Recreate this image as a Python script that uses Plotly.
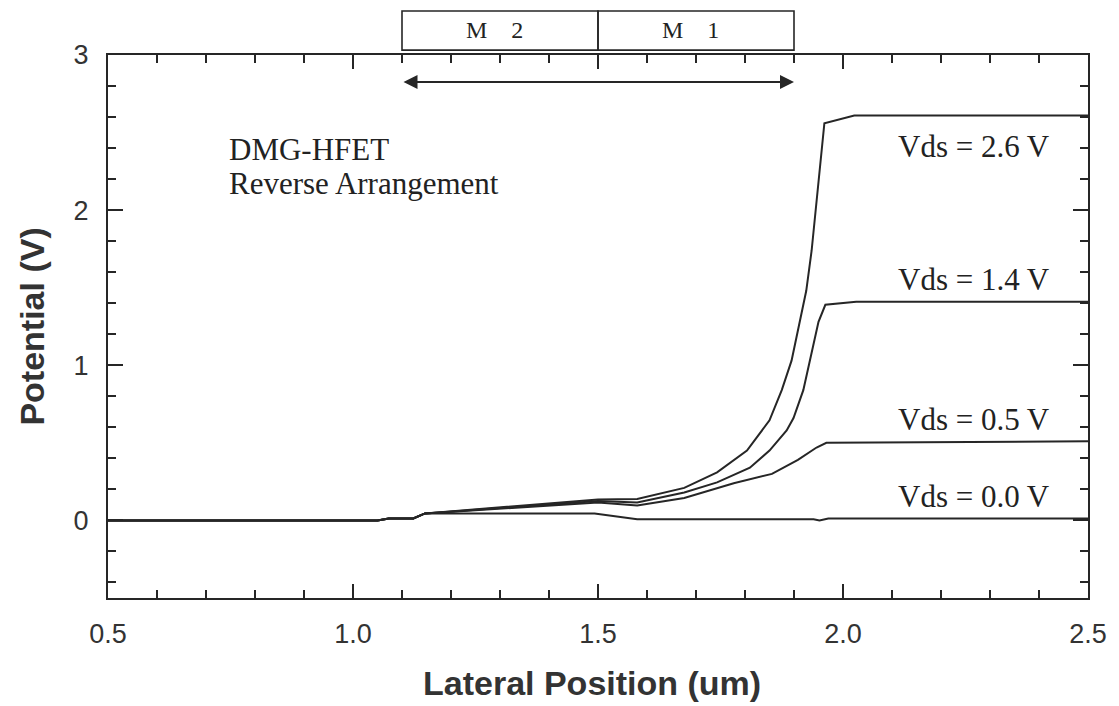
import plotly.graph_objects as go

# ---- data ----
x_v00 = [0.5, 1.05, 1.073, 1.123, 1.147, 1.493, 1.58, 1.94, 1.952, 1.97, 2.5]
y_v00 = [0, 0, 0.013, 0.013, 0.045, 0.045, 0.008, 0.008, 0.0, 0.013, 0.013]

x_v05 = [0.5, 1.05, 1.073, 1.123, 1.147, 1.3, 1.45, 1.5, 1.58, 1.676, 1.777,
         1.855, 1.908, 1.946, 1.966, 2.5]
y_v05 = [0, 0, 0.013, 0.013, 0.045, 0.075, 0.105, 0.115, 0.097, 0.145, 0.24,
         0.30, 0.39, 0.47, 0.50, 0.51]

x_v14 = [0.5, 1.05, 1.073, 1.123, 1.147, 1.3, 1.45, 1.5, 1.58, 1.676, 1.743, 1.81,
         1.85, 1.885, 1.899, 1.919, 1.95, 1.964, 2.027, 2.5]
y_v14 = [0, 0, 0.013, 0.013, 0.045, 0.08, 0.115, 0.125, 0.116, 0.18, 0.245, 0.34,
         0.45, 0.58, 0.66, 0.84, 1.28, 1.39, 1.41, 1.41]

x_v26 = [0.5, 1.05, 1.073, 1.123, 1.147, 1.3, 1.45, 1.5, 1.58, 1.676, 1.743, 1.804,
         1.85, 1.875, 1.895, 1.925, 1.936, 1.962, 2.023, 2.5]
y_v26 = [0, 0, 0.013, 0.013, 0.045, 0.085, 0.125, 0.135, 0.138, 0.21, 0.31, 0.45,
         0.645, 0.84, 1.03, 1.48, 1.74, 2.56, 2.61, 2.61]

series = [
    ("Vds = 0.0 V", x_v00, y_v00),
    ("Vds = 0.5 V", x_v05, y_v05),
    ("Vds = 1.4 V", x_v14, y_v14),
    ("Vds = 2.6 V", x_v26, y_v26),
]

# label positions (x right edge, y centre) for each curve label
label_text = ["Vds = 2.6 V", "Vds = 1.4 V", "Vds = 0.5 V", "Vds = 0.0 V"]
label_x = [2.427, 2.427, 2.427, 2.427]
label_y = [2.41, 1.55, 0.65, 0.155]

note_lines = ["DMG-HFET", "Reverse Arrangement"]
note_x = 0.742
note_y = [2.39, 2.17]

gate_names = ["M\u00a0\u00a0\u00a0\u00a02", "M\u00a0\u00a0\u00a0\u00a01"]
gate_edges = [1.1, 1.5, 1.9]

x_range = [0.5, 2.5]
y_range = [-0.5, 3.0]

LINE = "#262626"
SERIF = "Liberation Serif, Times New Roman, serif"
SANS = "Liberation Sans, Arial, sans-serif"

fig = go.Figure()
for name, xs, ys in series:
    fig.add_trace(go.Scatter(x=xs, y=ys, mode="lines", name=name,
                             line=dict(color=LINE, width=2), showlegend=False))

def xp(v):
    return (v - x_range[0]) / (x_range[1] - x_range[0])

annotations = []
for t, lx, ly in zip(label_text, label_x, label_y):
    annotations.append(dict(x=lx, y=ly, xref="x", yref="y", text=t, showarrow=False,
                            xanchor="right", yanchor="middle",
                            font=dict(family=SERIF, size=31, color="#222")))
for t, ny in zip(note_lines, note_y):
    annotations.append(dict(x=note_x, y=ny, xref="x", yref="y", text=t, showarrow=False,
                            xanchor="left", yanchor="middle",
                            font=dict(family=SERIF, size=31, color="#222")))

# gate box labels
for i, g in enumerate(gate_names):
    cx = (gate_edges[i] + gate_edges[i + 1]) / 2 - 0.012
    annotations.append(dict(x=xp(cx), y=1.046, xref="paper", yref="paper", text=g,
                            showarrow=False, xanchor="center", yanchor="middle",
                            font=dict(family=SERIF, size=24, color="#222")))

# double arrow
annotations.append(dict(x=gate_edges[-1], y=2.826, ax=gate_edges[0], ay=2.826,
                        xref="x", yref="y", axref="x", ayref="y", text="",
                        showarrow=True, arrowhead=2, arrowside="end+start",
                        arrowsize=1.4, arrowwidth=2, arrowcolor=LINE, standoff=0,
                        startstandoff=0))

# axis titles
annotations.append(dict(x=0.494, y=-0.1935, xref="paper", yref="paper",
                        text="<b>Lateral Position (um)</b>", showarrow=False,
                        xanchor="center", yanchor="bottom", borderpad=0,
                        font=dict(family=SANS, size=34, color="#333")))
annotations.append(dict(x=-0.078, y=0.499, xref="paper", yref="paper",
                        text="<b>Potential (V)</b>", showarrow=False, textangle=-90,
                        xanchor="center", yanchor="middle",
                        font=dict(family=SANS, size=34, color="#333")))

shapes = []
for i in range(len(gate_edges) - 1):
    shapes.append(dict(type="rect", xref="paper", yref="paper",
                       x0=xp(gate_edges[i]), x1=xp(gate_edges[i + 1]),
                       y0=1.009, y1=1.081, line=dict(color=LINE, width=1.6),
                       fillcolor="rgba(0,0,0,0)"))

fig.update_layout(
    width=1119, height=706,
    margin=dict(l=108, r=26, t=55, b=108),
    paper_bgcolor="white", plot_bgcolor="white",
    annotations=annotations, shapes=shapes,
    font=dict(family=SANS, color="#333"),
)
fig.update_xaxes(range=x_range, showline=True, linecolor=LINE, linewidth=2,
                 mirror="ticks", ticks="inside", ticklen=14, tickwidth=1.6,
                 tickcolor=LINE, tick0=0.5, dtick=0.5, tickformat=".1f",
                 tickfont=dict(family=SANS, size=27, color="#333"),
                 ticklabelstandoff=11, showgrid=False, zeroline=False,
                 minor=dict(dtick=0.1, tick0=0.5, ticks="inside", ticklen=8,
                            tickwidth=1.6, tickcolor=LINE, showgrid=False))
fig.update_yaxes(range=y_range, showline=True, linecolor=LINE, linewidth=2,
                 mirror="ticks", ticks="inside", ticklen=15, tickwidth=1.6,
                 tickcolor=LINE, tick0=0, dtick=1,
                 tickfont=dict(family=SANS, size=27, color="#333"),
                 ticklabelstandoff=12, showgrid=False, zeroline=False,
                 minor=dict(dtick=0.2, tick0=0, ticks="inside", ticklen=8,
                            tickwidth=1.6, tickcolor=LINE, showgrid=False))

fig.write_html("out.html", config={"displayModeBar": False},
               post_script="document.body.style.margin='0';document.body.style.overflow='hidden';")
